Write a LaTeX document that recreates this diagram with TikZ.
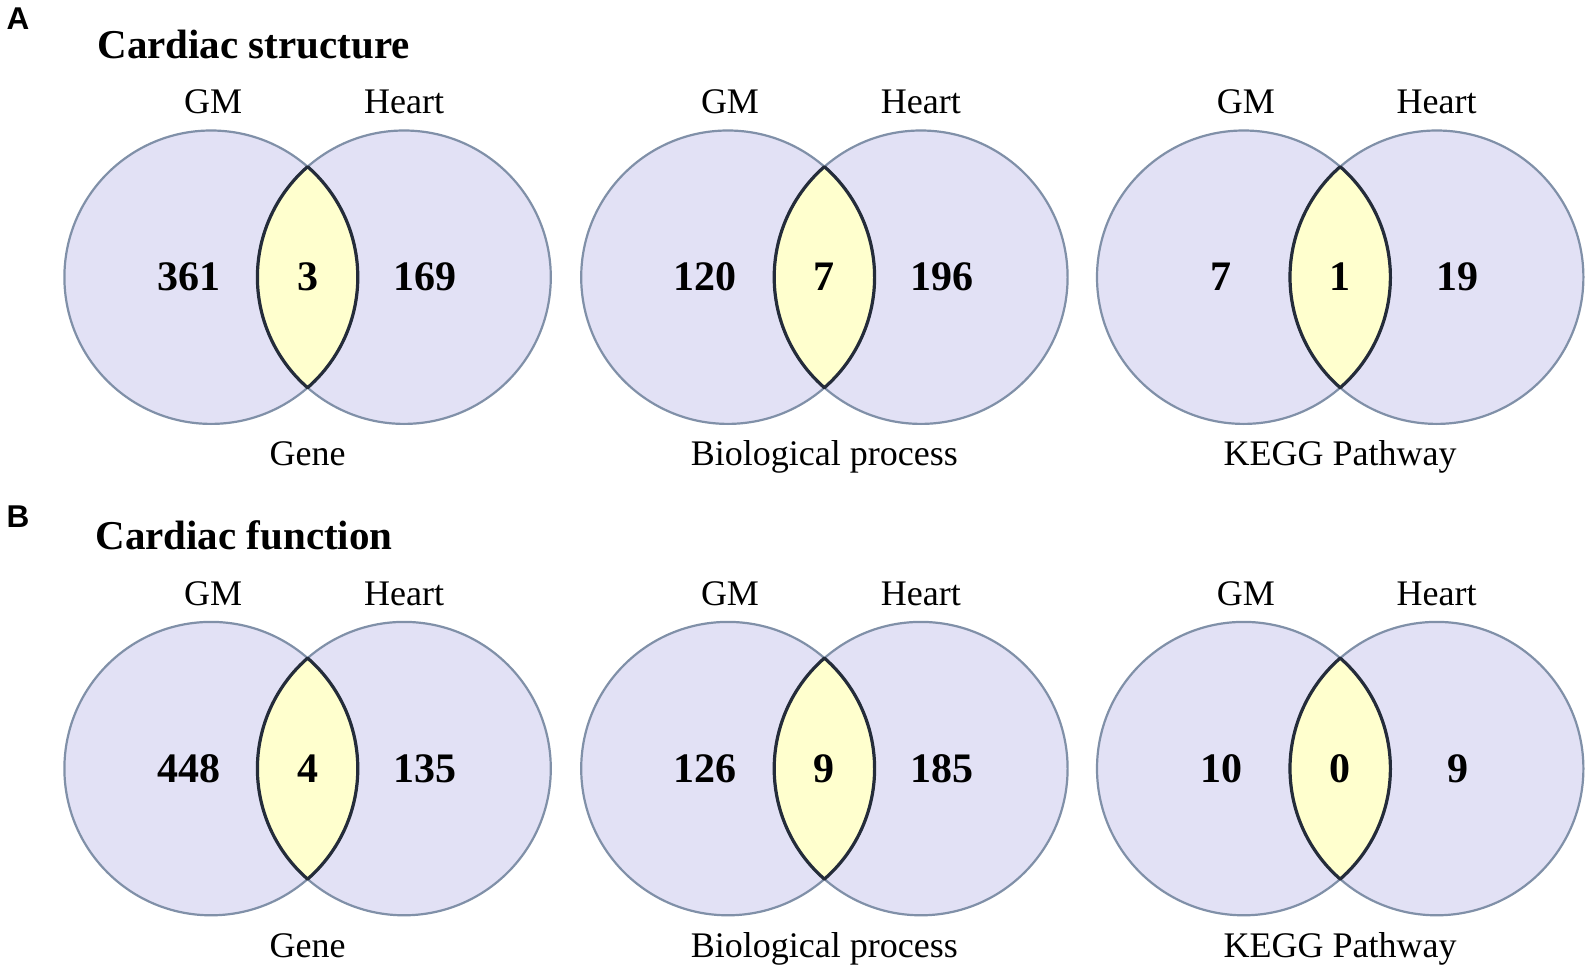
\documentclass[tikz,border=0pt]{standalone}
\usepackage{fontspec}
\setmainfont{Liberation Serif}
\newfontfamily\panelfont{Liberation Sans}
\definecolor{setfill}{RGB}{226,225,245}
\definecolor{setline}{RGB}{128,144,168}
\definecolor{lensfill}{RGB}{255,255,206}
\definecolor{lensline}{RGB}{36,44,58}
\tikzset{
  setcircle/.style={fill=setfill, draw=setline, line width=1.1pt},
  lens/.style={fill=lensfill, draw=lensline, line width=1.6pt, line join=round},
  count/.style={font=\fontsize{21}{24}\selectfont\bfseries, anchor=base, inner sep=0pt},
  setname/.style={font=\fontsize{18}{21}\selectfont, anchor=base, inner sep=0pt},
  rowtitle/.style={font=\fontsize{20.5}{24}\selectfont\bfseries, anchor=base west, inner sep=0pt},
  panellabel/.style={font=\panelfont\fontsize{15.75}{18}\selectfont\bfseries, anchor=base, inner sep=0pt},
}
% #1 name, #2 cx, #3 cy (pixels, downward), #4 left, #5 middle, #6 right, #7 caption
\newcommand\vennpanel[7]{%
  \coordinate (#1-L) at (#2-96.5, -#3);
  \coordinate (#1-R) at (#2+96.5, -#3);
  \path[fill=setfill] (#1-L) circle[radius=146.7];
  \path[fill=setfill] (#1-R) circle[radius=146.7];
  \draw[setline, line width=1.1pt] (#1-L) circle[radius=146.7];
  \draw[setline, line width=1.1pt] (#1-R) circle[radius=146.7];
  \path[lens] (#2, -#3+110.5) arc[start angle=131.13, end angle=228.87, radius=146.7]
     arc[start angle=-48.87, end angle=48.87, radius=146.7] -- cycle;
  \node[setname] (#1-gm) at (#2-94.4, -#3+163.5) {GM};
  \node[setname] (#1-heart) at (#2+96.5, -#3+163.5) {Heart};
  \node[count] (#1-left) at (#2-119, -#3-13.5) {#4};
  \node[count] (#1-mid) at (#2, -#3-13.5) {#5};
  \node[count] (#1-right) at (#2+117.5, -#3-13.5) {#6};
  \node[setname] (#1-cap) at (#2, -#3-188.5) {#7};
}
\begin{document}
\begin{tikzpicture}[x=0.5pt, y=0.5pt]
  \useasboundingbox (0,0) rectangle (1592,-974);
  \fill[white] (0,0) rectangle (1592,-974);
  % Row A
  \node[panellabel] (labA) at (18,-29.3) {A};
  \node[rowtitle] (titleA) at (97,-58.5) {Cardiac structure};
  \vennpanel{a1}{307.6}{277.2}{361}{3}{169}{Gene}
  \vennpanel{a2}{824.4}{277.2}{120}{7}{196}{Biological process}
  \vennpanel{a3}{1340.2}{277.2}{7}{1}{19}{KEGG Pathway}
  % Row B
  \node[panellabel] (labB) at (18,-527.3) {B};
  \node[rowtitle] (titleB) at (95,-549.3) {Cardiac function};
  \vennpanel{b1}{307.6}{768.6}{448}{4}{135}{Gene}
  \vennpanel{b2}{824.4}{768.6}{126}{9}{185}{Biological process}
  \vennpanel{b3}{1340.2}{768.6}{10}{0}{9}{KEGG Pathway}
\end{tikzpicture}
\end{document}
